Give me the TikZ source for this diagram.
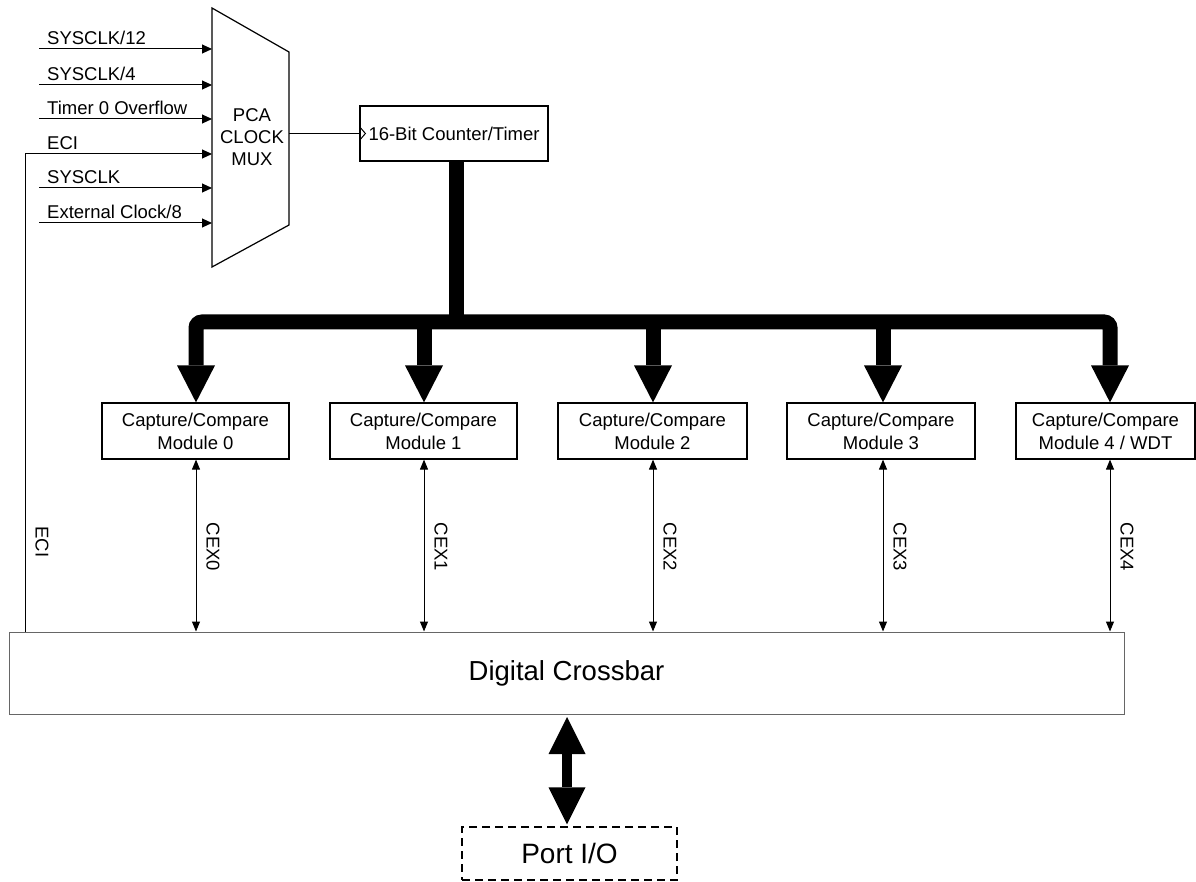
\documentclass[tikz,border=0pt]{standalone}
\usepackage{fontspec}
\setmainfont{Liberation Sans}
\usetikzlibrary{arrows.meta}
\begin{document}
\begin{tikzpicture}[x=1pt,y=-1pt,
  lbl/.style={font=\fontsize{18.5}{22}\selectfont, inner sep=0pt},
  modbox/.style={draw, line width=1.2pt, minimum height=56pt, inner sep=0pt, align=center, font=\fontsize{18.5}{23}\selectfont},
  thinline/.style={line width=1pt},
  inarr/.style={thinline, -{Triangle[width=9pt,length=10pt]}},
  cexarr/.style={thinline, {Triangle[width=8pt,length=10pt]}-{Triangle[width=8pt,length=10pt]}},
  bus/.style={line width=15pt},
  bustip/.tip={Triangle[width=38pt,length=37pt,line width=0pt]},
  porttip/.tip={Triangle[width=37pt,length=37pt,line width=0pt]},
  cexlbl/.style={lbl, rotate=-90}
]
\useasboundingbox (0,0) rectangle (1196,882);

% PCA clock mux
\draw[line width=1.2pt] (212,8) coordinate (muxTL) -- (289,52) -- (289,225) -- (212,267) -- cycle;
\node[lbl, align=center] (muxlbl) at (252,137) {PCA\\CLOCK\\MUX};
\coordinate (muxR) at (289,133.5);

% inputs
\coordinate (i1) at (39,49);
\coordinate (i2) at (39,85);
\coordinate (i3) at (39,119);
\coordinate (i4) at (25,154);
\coordinate (i5) at (39,188);
\coordinate (i6) at (39,223);
\draw[inarr] (i1) -- (i1 -| muxTL);
\draw[inarr] (i2) -- (i2 -| muxTL);
\draw[inarr] (i3) -- (i3 -| muxTL);
\draw[inarr] (i5) -- (i5 -| muxTL);
\draw[inarr] (i6) -- (i6 -| muxTL);
\node[lbl, anchor=base west] (t1) at (47,45) {SYSCLK/12};
\node[lbl, anchor=base west] (t2) at (47,81) {SYSCLK/4};
\node[lbl, anchor=base west] (t3) at (47,115) {Timer 0 Overflow};
\node[lbl, anchor=base west] (t4) at (47,150) {ECI};
\node[lbl, anchor=base west] (t5) at (47,184) {SYSCLK};
\node[lbl, anchor=base west] (t6) at (47,219) {External Clock/8};

% counter
\node[draw, line width=1.2pt, minimum width=188pt, minimum height=55pt, inner sep=0pt, font=\fontsize{18.5}{22}\selectfont] (cnt) at (454,133.5) {16-Bit Counter/Timer};
\draw[thinline] (muxR) -- (cnt.west);
\draw[thinline] ([yshift=7pt]cnt.west) -- ([xshift=6pt]cnt.west) -- ([yshift=-7pt]cnt.west);

% modules
\node[modbox, minimum width=187pt] (m0) at (195.5,431) {Capture/Compare\\Module 0};
\node[modbox, minimum width=187pt] (m1) at (423.5,431) {Capture/Compare\\Module 1};
\node[modbox, minimum width=189pt] (m2) at (652.5,431) {Capture/Compare\\Module 2};
\node[modbox, minimum width=188pt] (m3) at (881,431) {Capture/Compare\\Module 3};
\node[modbox, minimum width=179pt] (m4) at (1105.5,431) {Capture/Compare\\Module 4 / WDT};

% bus
\coordinate (bj) at (456,322);
\coordinate (d0) at (196,322);
\coordinate (d1) at (424,322);
\coordinate (d2) at (653,322);
\coordinate (d3) at (883,322);
\coordinate (d4) at (1110,322);
\draw[bus] (cnt.south -| bj) -- (bj);
\draw[bus, rounded corners=6pt, bustip-bustip] (d0 |- m0.north) -- (d0) -- (d4) -- (d4 |- m4.north);
\draw[bus, -bustip] (d1) -- (d1 |- m1.north);
\draw[bus, -bustip] (d2) -- (d2 |- m2.north);
\draw[bus, -bustip] (d3) -- (d3 |- m3.north);

% crossbar
\node[draw=black!60, line width=1pt, minimum width=1115pt, minimum height=82pt, inner sep=0pt, font=\fontsize{27.5}{32}\selectfont] (xbar) at (566.5,673) {Digital Crossbar};

% CEX lines
\draw[cexarr] (d0 |- m0.south) -- (d0 |- xbar.north);
\draw[cexarr] (d1 |- m1.south) -- (d1 |- xbar.north);
\draw[cexarr] (d2 |- m2.south) -- (d2 |- xbar.north);
\draw[cexarr] (d3 |- m3.south) -- (d3 |- xbar.north);
\draw[cexarr] (d4 |- m4.south) -- (d4 |- xbar.north);
\node[cexlbl] (c0) at (213,547) {CEX0};
\node[cexlbl] (c1) at (441,547) {CEX1};
\node[cexlbl] (c2) at (670,547) {CEX2};
\node[cexlbl] (c3) at (900,547) {CEX3};
\node[cexlbl] (c4) at (1127,547) {CEX4};

% ECI feed
\draw[inarr] (i4 |- xbar.north) -- (i4) -- (i4 -| muxTL);
\node[cexlbl] (eci) at (42,542) {ECI};

% Port I/O
\node[draw, dash pattern=on 8pt off 5pt, line width=1.2pt, minimum width=215pt, minimum height=53pt, inner sep=0pt, font=\fontsize{28}{32}\selectfont] (port) at (569.5,853.5) {Port I/O};
\coordinate (pa) at (567,714);
\draw[line width=10pt, porttip-porttip, shorten <=3pt, shorten >=2pt] (pa) -- (pa |- port.north);
\end{tikzpicture}
\end{document}
